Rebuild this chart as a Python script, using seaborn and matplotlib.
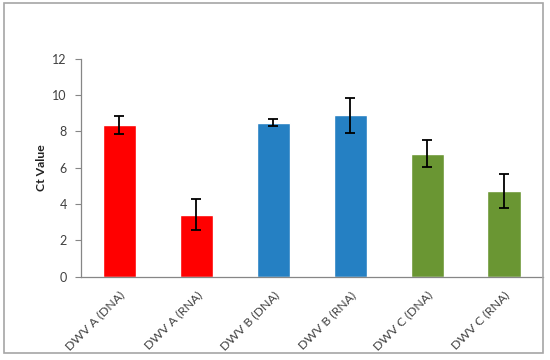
import matplotlib
matplotlib.use("Agg")
import matplotlib.pyplot as plt
import seaborn as sns
import pandas as pd
from matplotlib.patches import Rectangle

categories = ["DWV A (DNA)", "DWV A (RNA)", "DWV B (DNA)", "DWV B (RNA)", "DWV C (DNA)", "DWV C (RNA)"]
ct_values = [8.35, 3.42, 8.48, 8.88, 6.78, 4.72]
ct_errors = [0.48, 0.86, 0.18, 0.97, 0.72, 0.92]
bar_colors = ["#FF0000", "#FF0000", "#2580C3", "#2580C3", "#6A9633", "#6A9633"]
y_ticks = [0, 2, 4, 6, 8, 10, 12]

df = pd.DataFrame({"cat": categories, "val": ct_values})

sns.set_style("white")
plt.rcParams["font.family"] = ["Lato", "DejaVu Sans"]

fig = plt.figure(figsize=(5.5, 3.6), dpi=100)
ax = fig.add_axes([80.7 / 550, 1 - 276.7 / 360, (542.5 - 80.7) / 550, (276.7 - 58.7) / 360])

sns.barplot(data=df, x="cat", y="val", hue="cat", palette=bar_colors, legend=False,
            width=0.43, ax=ax, errorbar=None, saturation=1)

xs = [p.get_x() + p.get_width() / 2 for p in ax.patches]
ax.errorbar(xs, ct_values, yerr=ct_errors, fmt="none", ecolor="black",
            elinewidth=1.3, capsize=3.5, capthick=1.3, zorder=5)

ax.set_ylim(0, 12)
ax.set_xlim(-0.5, len(categories) - 0.5)
ax.set_yticks(y_ticks)
ax.set_yticklabels([str(t) for t in y_ticks], fontsize=9, color="#404040")
ax.set_xticks(range(len(categories)))
ax.set_xticklabels(categories, rotation=45, ha="right", va="top", rotation_mode="anchor",
                   fontsize=8.8, color="#404040")
ax.tick_params(axis="x", length=0, pad=9)
ax.tick_params(axis="y", length=4, width=0.8, color="#868686", direction="out", left=True, pad=6)
ax.set_xlabel("")
ax.set_ylabel("Ct Value", fontsize=8.8, fontweight="bold", color="#202020", labelpad=4)

for s in ["top", "right"]:
    ax.spines[s].set_visible(False)
for s in ["left", "bottom"]:
    ax.spines[s].set_color("#868686")
    ax.spines[s].set_linewidth(0.9)

fig.patches.append(Rectangle((4 / 550, 1 - 353 / 360), (542.5 - 4) / 550, (353 - 3) / 360,
                             transform=fig.transFigure, fill=False, edgecolor="#A6A6A6",
                             linewidth=1.2, zorder=0))

fig.savefig("out.png", dpi=100)
